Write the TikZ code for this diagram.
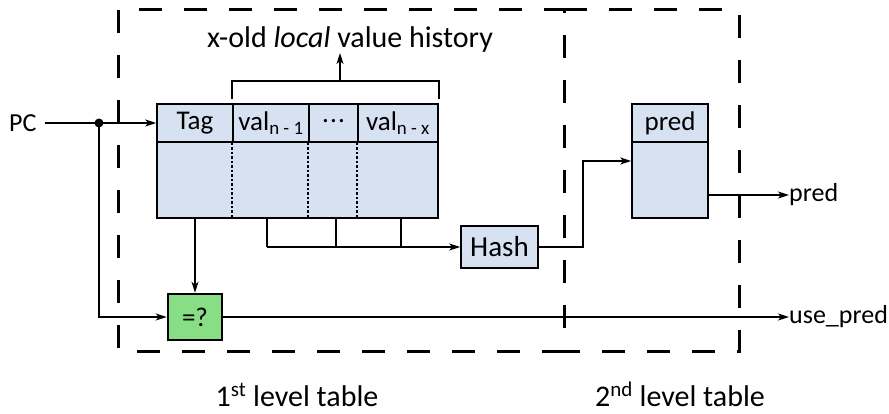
\documentclass[tikz,border=0pt]{standalone}
\usepackage{fontspec}
\setmainfont{Carlito}
\usetikzlibrary{arrows.meta,calc}
\definecolor{tblue}{RGB}{214,225,242}
\definecolor{tgreen}{RGB}{136,222,132}
\begin{document}
\begin{tikzpicture}[x=1pt,y=-1pt,
  fs/.style={font=\fontsize{#1}{#1}\selectfont},
  cell/.style={draw,line width=1.6pt,fill=tblue,inner sep=0pt,minimum height=38pt,fs=27},
  bodycell/.style={draw,line width=1.6pt,fill=tblue,inner sep=0pt,minimum height=76pt},
  conn/.style={line width=1.5pt},
  arr/.style={conn,-{Stealth[length=11pt,width=7pt,inset=3pt]}},
  border/.style={line width=3pt,dash pattern=on 23pt off 22pt},
  sep/.style={line width=1.7pt,dash pattern=on 2.5pt off 2pt},
  lbl/.style={inner sep=0pt,fs=26},
]
\useasboundingbox (0,0) rectangle (889,414);
% dashed frames
\draw[border] (118,10) rectangle (564,351);
\draw[border] (564,10) -- (739,10) -- (739,351) -- (564,351);
% first level table
\node[bodycell,minimum width=281pt] (body) at (297.5,180) {};
\node[cell,minimum width=76pt] (tag) at (195,123) {Tag};
\node[cell,minimum width=76pt] (v1) at (271,123) {val\textsubscript{n - 1}};
\node[cell,minimum width=49pt] (dots) at (333.5,123) {\raisebox{5pt}{.\kern1.2pt.\kern1.2pt.}};
\node[cell,minimum width=80pt] (vx) at (398,123) {val\textsubscript{n - x}};
\draw[sep] (v1.south west) -- (v1.south west |- body.south);
\draw[sep] (dots.south west) -- (dots.south west |- body.south);
\draw[sep] (vx.south west) -- (vx.south west |- body.south);
% history bracket and title
\node[lbl,fs=30] (title) at (350,40) {x-old \textit{local} value history};
\coordinate (bl) at ($(v1.north west)+(0,-4)$);
\coordinate (br) at ($(vx.north east)+(0,-4)$);
\coordinate (bm) at (340,81);
\draw[conn] (bl) -- (bl |- bm) -- (br |- bm) -- (br);
\draw[arr] (bm) -- (bm |- title.south);
% second level table
\node[bodycell,minimum width=76pt] (pbody) at (670,180) {};
\node[cell,minimum width=76pt] (phead) at (670,123) {pred};
% hash and compare
\node[draw,line width=1.6pt,fill=tblue,minimum width=77pt,minimum height=42pt,inner sep=0pt,fs=29] (hash) at (499.5,247) {Hash};
\node[draw,line width=2.6pt,fill=tgreen,minimum width=54pt,minimum height=46pt,inner sep=0pt,fs=27] (eq) at (195,317) {=?};
% PC input
\node[lbl,anchor=west] (pc) at (9,123) {PC};
\coordinate (dot) at (99,123);
\draw[arr] (pc.east) ++(8,0) -- (tag.west);
\fill (dot) circle (4.5pt);
\draw[arr] (dot) |- (eq.west);
\draw[arr] (tag.south |- body.south) -- (eq.north);
% values to hash
\coordinate (h1) at (267,247);
\coordinate (h2) at (336,247);
\coordinate (h3) at (401,247);
\draw[conn] (h1 |- body.south) -- (h1);
\draw[conn] (h2 |- body.south) -- (h2);
\draw[conn] (h3 |- body.south) -- (h3);
\draw[arr] (h1) -- (hash.west);
% hash to pred table
\coordinate (hp) at (583,161);
\draw[arr] (hash.east) -| (hp) -- (hp -| pbody.west);
% outputs
\node[lbl,anchor=west] (predout) at (789,195) {pred};
\node[lbl,anchor=west] (useout) at (789,317) {use\_pred};
\draw[arr] (pbody.east |- predout) -- (predout.west);
\draw[arr] (eq.east) -- (eq.east -| useout.west);
% level labels
\node[lbl,fs=30,anchor=base] (l1) at (297,406) {1\textsuperscript{st} level table};
\node[lbl,fs=30,anchor=base] (l2) at (680,406) {2\textsuperscript{nd} level table};
\end{tikzpicture}
\end{document}
